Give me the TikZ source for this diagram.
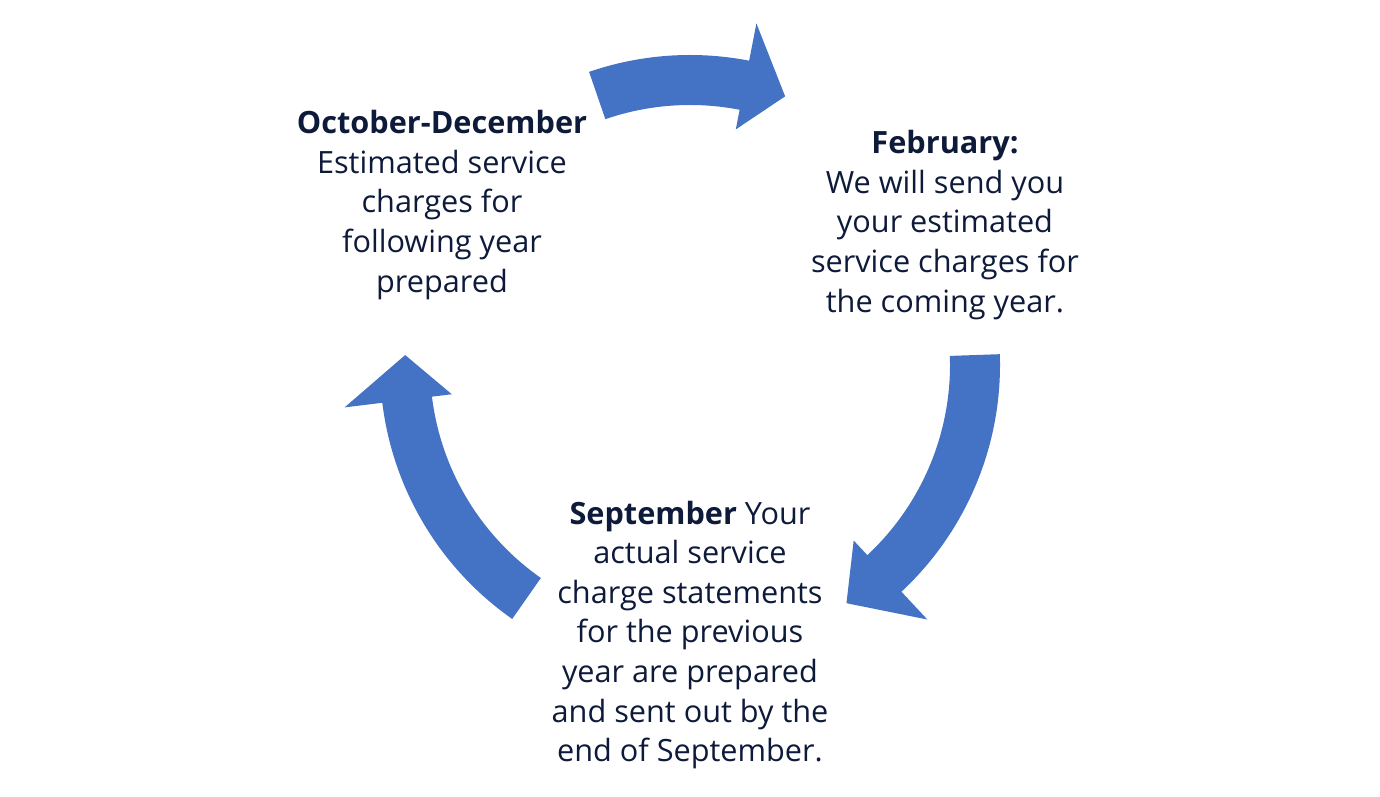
\documentclass[tikz,border=0pt]{standalone}
\usepackage{fontspec}
\setmainfont{Open Sans}
\usetikzlibrary{positioning}
\definecolor{cyclearrow}{HTML}{4472C4}
\definecolor{cycletext}{HTML}{0E1A3A}
\tikzset{
stagetext/.style={
  align=center,
  text=cycletext,
  font=\fontsize{23}{29.7}\selectfont
  },
cyclefill/.style={fill=cyclearrow}
}
% #1 start angle, #2 head base angle, #3 tip angle
\newcommand{\cyclearrow}[3]{
\fill[cyclefill] ({#1}:310) arc[start angle=#1, end angle=#2, radius=310]
  -- ({#2}:348) -- ({#3}:285) -- ({#2}:240) -- ({#2}:260)
  arc[start angle=#2, end angle=#1, radius=260] -- cycle;
}

\begin{document}
\begin{tikzpicture}[x=0.75pt, y=0.75pt]
\useasboundingbox (0,0) rectangle (1380,796);

\begin{scope}[shift={(690,431)}]
\cyclearrow{109}{79}{70.5}
\cyclearrow{2}{-47}{-56.7}
\cyclearrow{235}{187}{178}
\end{scope}

\node[stagetext] (octdec) at (442,591)
  {\textbf{October-December}\\Estimated service\\charges for\\following year\\prepared};
\node[stagetext] (feb) at (945,571)
  {\textbf{February:}\\We will send you\\your estimated\\service charges for\\the coming year.};
\node[stagetext] (sep) at (690,161)
  {\textbf{September} Your\\actual service\\charge statements\\for the previous\\year are prepared\\and sent out by the\\end of September.};
\end{tikzpicture}
\end{document}
